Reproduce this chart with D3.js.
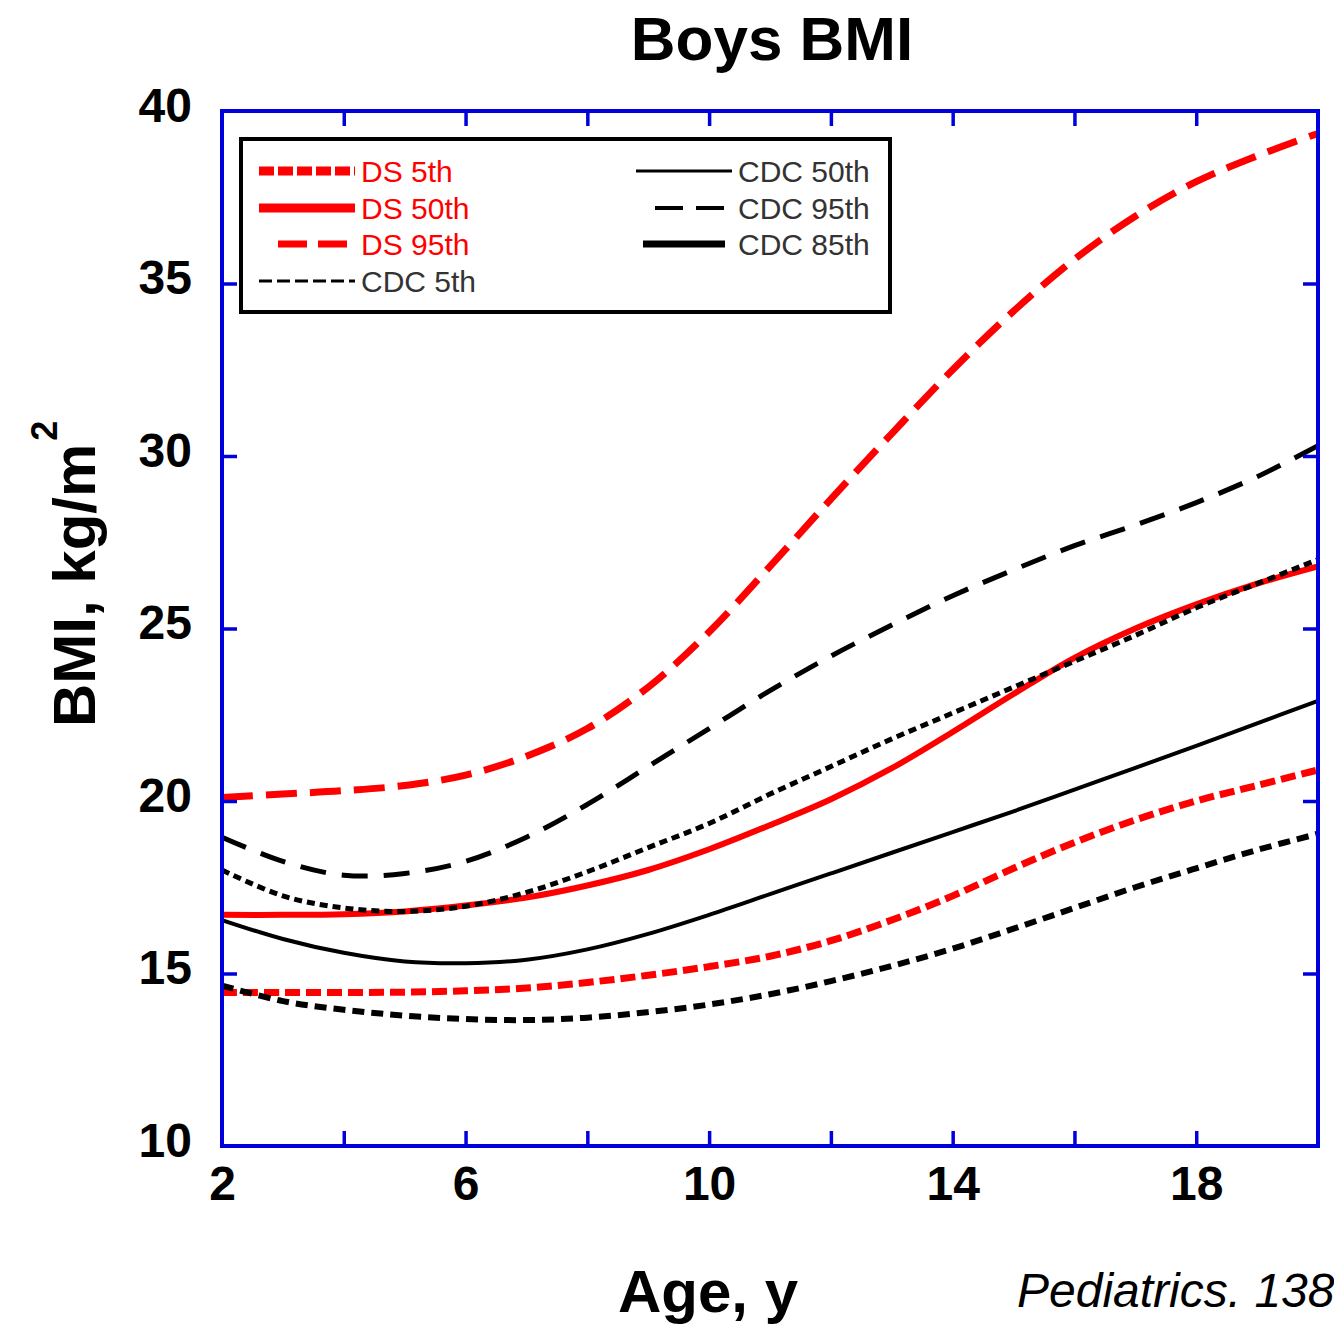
<!DOCTYPE html>
<html><head><meta charset="utf-8">
<script src="https://cdn.jsdelivr.net/npm/d3@7"></script>
<style>body{margin:0;background:#fff}svg{display:block}</style>
</head><body>
<svg id="c" width="1334" height="1326"></svg>
<script>
// ---- data ----
const ages   = [2,3,4,5,6,7,8,9,10,11,12,13,14,15,16,17,18,19,20];
const ds5    = [14.45,14.45,14.45,14.46,14.5,14.58,14.74,14.95,15.2,15.5,15.95,16.55,17.25,18.05,18.8,19.45,20.0,20.45,20.9];
const ds50   = [16.7,16.7,16.72,16.8,16.97,17.2,17.55,18.0,18.6,19.3,20.05,20.95,22.0,23.1,24.15,25.0,25.7,26.3,26.8];
const ds95   = [20.1,20.2,20.3,20.45,20.75,21.3,22.1,23.3,24.9,26.8,28.75,30.65,32.5,34.2,35.7,36.95,37.95,38.7,39.35];
const cdc5   = [14.65,14.2,13.95,13.78,13.68,13.65,13.72,13.88,14.1,14.4,14.78,15.22,15.72,16.3,16.9,17.5,18.05,18.58,19.05];
const cdc50  = [16.55,16.0,15.6,15.35,15.3,15.4,15.7,16.15,16.7,17.3,17.9,18.5,19.1,19.7,20.33,20.96,21.6,22.25,22.9];
const cdc85  = [18.0,17.25,16.9,16.8,16.95,17.35,17.95,18.65,19.35,20.2,21.0,21.8,22.55,23.3,24.05,24.8,25.6,26.3,27.0];
const cdc95  = [18.95,18.25,17.85,17.9,18.25,18.95,19.9,21.0,22.1,23.2,24.2,25.1,25.95,26.7,27.4,28.0,28.65,29.4,30.3];
const yTicks = [10,15,20,25,30,35,40];
const xLabelTicks = [2,6,10,14,18];
const xMinorTicks = [4,6,8,10,12,14,16,18];
const yInnerTicks = [15,20,25,30,35];

const title = "Boys BMI";
const xTitle = "Age, y";
const yTitle = "BMI, kg/m";
const source = "Pediatrics. 138";

// ---- styles ----
const RED = "#ff0000", BLK = "#000000", BLUE = "#0000dd";
const series = [
  {name:"DS 5th",  vals:ds5,  color:RED, w:7, dash:"15,6",  lw:9, ldash:"15,4",  lx:[259,355], col:0, row:0},
  {name:"DS 50th", vals:ds50, color:RED, w:6, dash:null,    lw:9, ldash:null,    lx:[259,355], col:0, row:1},
  {name:"DS 95th", vals:ds95, color:RED, w:7, dash:"31,13", lw:7, ldash:"29,11", lx:[278,348], col:0, row:2},
  {name:"CDC 5th", vals:cdc5, color:BLK, w:6, dash:"12,7",  lw:3, ldash:"13,5",  lx:[259,355], col:0, row:3},
  {name:"CDC 50th",vals:cdc50,color:BLK, w:4, dash:null,    lw:3, ldash:null,    lx:[636,732], col:1, row:0},
  {name:"CDC 95th",vals:cdc95,color:BLK, w:5, dash:"26,16", lw:4, ldash:"28,13", lx:[655,725], col:1, row:1},
  {name:"CDC 85th",vals:cdc85,color:BLK, w:5, dash:"8,5",   lw:7, ldash:null,    lx:[643,725], col:1, row:2}
];

const svg = d3.select("#c");
const FONT = "'Liberation Sans', Arial, Helvetica, sans-serif";
const L = 222, R = 1318, T = 111, B = 1146;
const x = d3.scaleLinear().domain([2,20]).range([L,R]);
const y = d3.scaleLinear().domain([10,40]).range([B,T]);

svg.append("rect").attr("width",1334).attr("height",1326).attr("fill","#fff");

// clip
svg.append("clipPath").attr("id","clip").append("rect")
  .attr("x",L).attr("y",T).attr("width",R-L).attr("height",B-T);

// lines
const line = d3.line().x(d=>x(d[0])).y(d=>y(d[1])).curve(d3.curveCatmullRom.alpha(0.5));
const gLines = svg.append("g").attr("clip-path","url(#clip)");
series.forEach(s=>{
  gLines.append("path")
    .datum(ages.map((a,i)=>[a,s.vals[i]]))
    .attr("d",line)
    .attr("fill","none")
    .attr("stroke",s.color)
    .attr("stroke-width",s.w)
    .attr("stroke-dasharray",s.dash)
    .attr("stroke-linejoin","round");
});

// frame
svg.append("rect").attr("x",L).attr("y",T).attr("width",R-L).attr("height",B-T)
  .attr("fill","none").attr("stroke",BLUE).attr("stroke-width",4);

// inward ticks via d3 axes
function styleTicks(g){
  g.select(".domain").remove();
  g.selectAll(".tick line").attr("stroke",BLUE).attr("stroke-width",3.5);
  g.selectAll(".tick text").remove();
}
svg.append("g").attr("transform",`translate(0,${T})`)
  .call(d3.axisTop(x).tickValues(xMinorTicks).tickSizeInner(-15).tickSizeOuter(0).tickFormat("")).call(styleTicks);
svg.append("g").attr("transform",`translate(0,${B})`)
  .call(d3.axisBottom(x).tickValues(xMinorTicks).tickSizeInner(-15).tickSizeOuter(0).tickFormat("")).call(styleTicks);
svg.append("g").attr("transform",`translate(${L},0)`)
  .call(d3.axisLeft(y).tickValues(yInnerTicks).tickSizeInner(-15).tickSizeOuter(0).tickFormat("")).call(styleTicks);
svg.append("g").attr("transform",`translate(${R},0)`)
  .call(d3.axisRight(y).tickValues(yInnerTicks).tickSizeInner(-15).tickSizeOuter(0).tickFormat("")).call(styleTicks);

// tick labels via d3 axes
const gyl = svg.append("g").attr("transform",`translate(192,0)`)
  .call(d3.axisLeft(y).tickValues(yTicks).tickSize(0).tickPadding(0).tickFormat(d3.format("d")));
gyl.select(".domain").remove();
gyl.selectAll(".tick text").attr("x",0).attr("dy",null).attr("y",10)
  .attr("text-anchor","end").attr("font-family",FONT).attr("font-weight","bold")
  .attr("font-size",48).attr("fill","#000");

const gxl = svg.append("g").attr("transform",`translate(0,1200)`)
  .call(d3.axisBottom(x).tickValues(xLabelTicks).tickSize(0).tickPadding(0).tickFormat(d3.format("d")));
gxl.select(".domain").remove();
gxl.selectAll(".tick text").attr("y",0).attr("dy",null)
  .attr("text-anchor","middle").attr("font-family",FONT).attr("font-weight","bold")
  .attr("font-size",48).attr("fill","#000");

// title
svg.append("text").attr("x",772).attr("y",60).attr("text-anchor","middle")
  .attr("font-family",FONT).attr("font-weight","bold").attr("font-size",62).text(title);

// axis titles
svg.append("text").attr("x",708).attr("y",1312).attr("text-anchor","middle")
  .attr("font-family",FONT).attr("font-weight","bold").attr("font-size",60).text(xTitle);

const yt = svg.append("text").attr("transform","translate(95,727) rotate(-90)")
  .attr("font-family",FONT).attr("font-weight","bold").attr("font-size",60);
yt.append("tspan").text(yTitle);
yt.append("tspan").attr("font-size",36).attr("dy",-38).attr("dx",3).text("2");

svg.append("text").attr("x",1017).attr("y",1307)
  .attr("font-family",FONT).attr("font-style","italic").attr("font-size",48).text(source);

// legend
svg.append("rect").attr("x",241).attr("y",139).attr("width",649).attr("height",173)
  .attr("fill","#fff").attr("stroke","#000").attr("stroke-width",4);
const rowY = [171,208,244,281];
const textX = [361,738];
series.forEach(s=>{
  const cy = rowY[s.row];
  svg.append("line").attr("x1",s.lx[0]).attr("x2",s.lx[1]).attr("y1",cy).attr("y2",cy)
    .attr("stroke",s.color).attr("stroke-width",s.lw).attr("stroke-dasharray",s.ldash);
  svg.append("text").attr("x",textX[s.col]).attr("y",cy+11)
    .attr("font-family",FONT).attr("font-size",30)
    .attr("fill",s.color===RED?RED:"#333").text(s.name);
});
</script>
</body></html>
